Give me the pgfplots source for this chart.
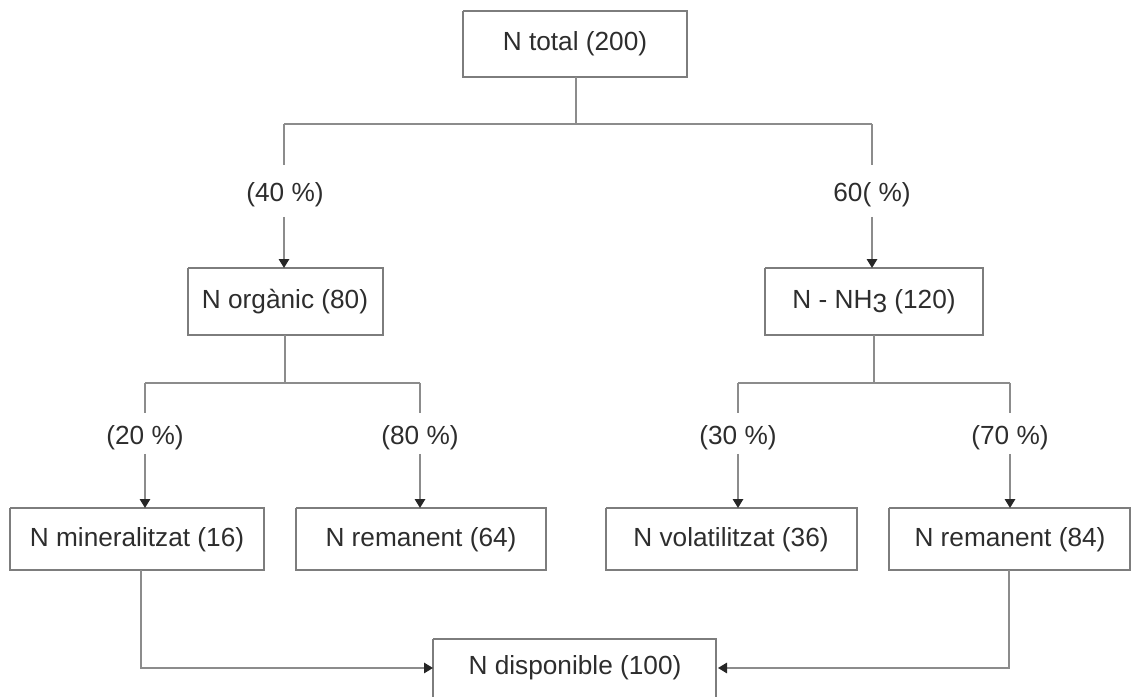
\documentclass[border=0pt]{standalone}
\usepackage{fontspec}
\setmainfont{Liberation Sans}
\usepackage{pgfplots}
\pgfplotsset{compat=1.18}
\usetikzlibrary{arrows.meta}

\definecolor{linegray}{RGB}{140,140,140}
\definecolor{boxgray}{RGB}{125,125,125}
\definecolor{txt}{RGB}{45,45,45}

\begin{document}
\begin{tikzpicture}[
    box/.style={draw=boxgray},
    conn/.style={draw=linegray},
    arr/.style={draw=linegray, -{Triangle[width=4.2pt,length=3.6pt,color=black!85]}},
    lbl/.style={font=\fontsize{10.5}{12}\selectfont, text=txt, inner sep=0pt},
]
\begin{axis}[
    width=16cm, height=9.808cm,
    scale only axis,
    xmin=0, xmax=1137, ymin=0, ymax=697,
    y dir=reverse,
    hide axis,
    every axis plot/.append style={line width=0.6pt},
]
% invisible frame keeps the page at the full size
\addplot[draw=none] coordinates {(0,0) (1137,697)};

% boxes (pixel coordinates of the corners)
\addplot[box] coordinates {(463,11) (687,11) (687,77) (463,77) (463,11)};
\addplot[box] coordinates {(188,268) (383,268) (383,335) (188,335) (188,268)};
\addplot[box] coordinates {(765,268) (983,268) (983,335) (765,335) (765,268)};
\addplot[box] coordinates {(10,508) (264,508) (264,570) (10,570) (10,508)};
\addplot[box] coordinates {(296,508) (546,508) (546,570) (296,570) (296,508)};
\addplot[box] coordinates {(606,508) (857,508) (857,570) (606,570) (606,508)};
\addplot[box] coordinates {(889,508) (1130,508) (1130,570) (889,570) (889,508)};
\addplot[box] coordinates {(433,639) (716,639) (716,705) (433,705) (433,639)};

% connectors, level 1
\addplot[conn] coordinates {(576,77) (576,124)};
\addplot[conn] coordinates {(284,124) (872,124)};
\addplot[conn] coordinates {(284,124) (284,165)};
\addplot[arr] coordinates {(284,217) (284,268)};
\addplot[conn] coordinates {(872,124) (872,165)};
\addplot[arr] coordinates {(872,217) (872,268)};

% connectors, level 2 left
\addplot[conn] coordinates {(285,335) (285,383)};
\addplot[conn] coordinates {(145,383) (420,383)};
\addplot[conn] coordinates {(145,383) (145,413)};
\addplot[arr] coordinates {(145,454) (145,508)};
\addplot[conn] coordinates {(420,383) (420,413)};
\addplot[arr] coordinates {(420,454) (420,508)};

% connectors, level 2 right
\addplot[conn] coordinates {(874,335) (874,383)};
\addplot[conn] coordinates {(738,383) (1010,383)};
\addplot[conn] coordinates {(738,383) (738,413)};
\addplot[arr] coordinates {(738,454) (738,508)};
\addplot[conn] coordinates {(1010,383) (1010,413)};
\addplot[arr] coordinates {(1010,454) (1010,508)};

% to the bottom box
\addplot[arr] coordinates {(141,570) (141,668) (433,668)};
\addplot[arr] coordinates {(1009,570) (1009,668) (718,668)};

% texts
\node[lbl] at (axis cs:575,44)  {N total (200)};
\node[lbl] at (axis cs:285,195) {(40 \%)};
\node[lbl] at (axis cs:872,195) {60( \%)};
\node[lbl] at (axis cs:285,302) {N orgànic (80)};
\node[lbl] at (axis cs:874,302) {N - NH\raisebox{-0.3ex}{3} (120)};
\node[lbl] at (axis cs:145,438) {(20 \%)};
\node[lbl] at (axis cs:420,438) {(80 \%)};
\node[lbl] at (axis cs:738,438) {(30 \%)};
\node[lbl] at (axis cs:1010,438) {(70 \%)};
\node[lbl] at (axis cs:137,540) {N mineralitzat (16)};
\node[lbl] at (axis cs:421,540) {N remanent (64)};
\node[lbl] at (axis cs:731,540) {N volatilitzat (36)};
\node[lbl] at (axis cs:1010,540) {N remanent (84)};
\node[lbl] at (axis cs:575,668) {N disponible (100)};
\end{axis}
\end{tikzpicture}
\end{document}
